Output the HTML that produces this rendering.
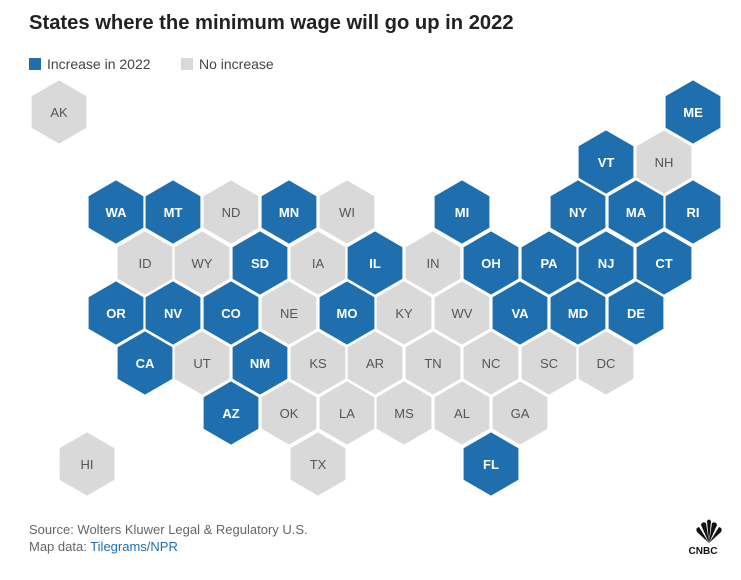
<!DOCTYPE html>
<html><head><meta charset="utf-8"><style>
html,body{margin:0;padding:0;background:#fff;}
body{width:741px;height:575px;overflow:hidden;font-family:"Liberation Sans",sans-serif;}
</style></head><body>
<svg width="741" height="575" xmlns="http://www.w3.org/2000/svg" font-family="Liberation Sans, sans-serif">
<text x="29" y="29" font-size="20.2" font-weight="bold" fill="#222">States where the minimum wage will go up in 2022</text>
<rect x="29" y="58" width="12" height="12" fill="#1f6fae"/>
<text x="47" y="69" font-size="14" fill="#444">Increase in 2022</text>
<rect x="181" y="58" width="12" height="12" fill="#d9d9d9"/>
<text x="199" y="69" font-size="14" fill="#444">No increase</text>
<g id="hexes"></g>
<text x="29" y="534" font-size="13" fill="#666">Source: Wolters Kluwer Legal &amp; Regulatory U.S.</text>
<text x="29" y="551" font-size="13" fill="#666">Map data: <tspan fill="#1f6fae">Tilegrams/NPR</tspan></text>
<g fill="#111">
<path d="M709 543 L697 532 Q695 528 699 527 Z"/>
<path d="M709 543 L701 525 Q702 521 706 523 Z"/>
<path d="M709 543 L707 521 Q709 518 711 521 Z"/>
<path d="M709 543 L712 523 Q716 521 717 525 Z"/>
<path d="M709 543 L719 527 Q723 528 721 532 Z"/>
<text x="703" y="554" font-size="10" font-weight="bold" text-anchor="middle">CNBC</text>
</g>
</svg>
<script>
const B="#1f6fae",G="#d9d9d9";
const d=[
["AK",59,112,0],["ME",693,112,1],["VT",606,162,1],["NH",664,162,0],
["WA",116,212,1],["MT",173,212,1],["ND",231,212,0],["MN",289,212,1],["WI",347,212,0],["MI",462,212,1],["NY",578,212,1],["MA",636,212,1],["RI",693,212,1],
["ID",145,263,0],["WY",202,263,0],["SD",260,263,1],["IA",318,263,0],["IL",375,263,1],["IN",433,263,0],["OH",491,263,1],["PA",549,263,1],["NJ",606,263,1],["CT",664,263,1],
["OR",116,313,1],["NV",173,313,1],["CO",231,313,1],["NE",289,313,0],["MO",347,313,1],["KY",404,313,0],["WV",462,313,0],["VA",520,313,1],["MD",578,313,1],["DE",636,313,1],
["CA",145,363,1],["UT",202,363,0],["NM",260,363,1],["KS",318,363,0],["AR",375,363,0],["TN",433,363,0],["NC",491,363,0],["SC",549,363,0],["DC",606,363,0],
["AZ",231,413,1],["OK",289,413,0],["LA",347,413,0],["MS",404,413,0],["AL",462,413,0],["GA",520,413,0],
["HI",87,464,0],["TX",318,464,0],["FL",491,464,1]];
const r=31.6;let s="";
for(const [n,x,y,b] of d){
 let p=[];for(let i=0;i<6;i++){const a=Math.PI/180*(60*i-90);p.push((x+r*Math.cos(a)).toFixed(1)+","+(y+r*Math.sin(a)).toFixed(1));}
 s+=`<polygon points="${p.join(" ")}" fill="${b?B:G}"/>`;
 s+=`<text x="${x}" y="${y+5}" font-size="13" text-anchor="middle" ${b?'fill="#fff" font-weight="bold"':'fill="#555"'}>${n}</text>`;
}
document.getElementById("hexes").innerHTML=s;
</script>
</body></html>
